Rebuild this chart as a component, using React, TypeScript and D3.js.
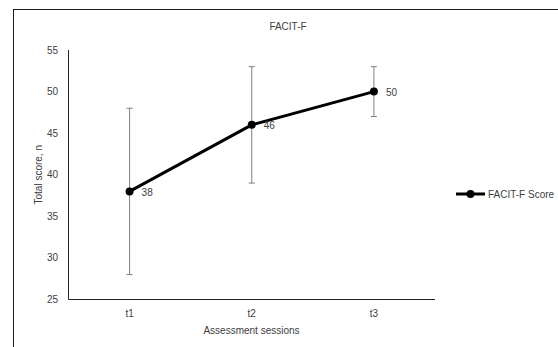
import React from "react";
import * as d3 from "d3";

const categories = ["t1", "t2", "t3"];
const scores = [38, 46, 50];
const errLow = [28, 39, 47];
const errHigh = [48, 53, 53];
const yTicks = [25, 30, 35, 40, 45, 50, 55];
const title = "FACIT-F";
const seriesName = "FACIT-F Score";
const xLabel = "Assessment sessions";
const yLabel = "Total score, n";

const W = 558;
const H = 347;
const FONT = "'Liberation Sans Narrow', 'Liberation Sans', Arial, sans-serif";

export default function App() {
  const x = d3.scaleBand<string>().domain(categories).range([68.5, 435]);
  const y = d3.scaleLinear().domain([25, 55]).range([299.5, 50]);
  const cx = (c: string) => (x(c) as number) + x.bandwidth() / 2;
  const line = d3
    .line<number>()
    .x((_, i) => cx(categories[i]))
    .y((d) => y(d));

  return (
    <svg
      width={W}
      height={H}
      style={{ position: "absolute", left: 0, top: 0 }}
      fontFamily={FONT}
    >
      <rect x={0} y={0} width={W} height={H} fill="#fff" />
      {/* outer chart frame */}
      <rect x={13.5} y={9.5} width={W} height={H} fill="none" stroke="#1a1a1a" strokeWidth={1} />
      <text x={288} y={30} textAnchor="middle" fontSize={10} fill="#404040">
        {title}
      </text>
      {/* axes */}
      <line x1={68.5} x2={68.5} y1={y(55)} y2={y(25)} stroke="#222" strokeWidth={1} />
      <line x1={68.5} x2={435} y1={y(25)} y2={y(25)} stroke="#222" strokeWidth={1} />
      {yTicks.map((t) => (
        <text key={t} x={58} y={y(t)} dy="0.35em" textAnchor="end" fontSize={10} fill="#404040">
          {t}
        </text>
      ))}
      {categories.map((c) => (
        <text key={c} x={cx(c)} y={313} dy="0.35em" textAnchor="middle" fontSize={10} fill="#404040">
          {c}
        </text>
      ))}
      <text x={251.5} y={330} dy="0.35em" textAnchor="middle" fontSize={10} fill="#404040">
        {xLabel}
      </text>
      <text
        transform={`translate(38,${y(40)}) rotate(-90)`}
        dy="0.35em"
        textAnchor="middle"
        fontSize={10}
        fill="#404040"
      >
        {yLabel}
      </text>
      {/* error bars */}
      {categories.map((c, i) => (
        <g key={c} stroke="#7f7f7f" strokeWidth={1}>
          <line x1={cx(c)} x2={cx(c)} y1={y(errLow[i])} y2={y(errHigh[i])} />
          <line x1={cx(c) - 3} x2={cx(c) + 3} y1={y(errLow[i])} y2={y(errLow[i])} />
          <line x1={cx(c) - 3} x2={cx(c) + 3} y1={y(errHigh[i])} y2={y(errHigh[i])} />
        </g>
      ))}
      <path d={line(scores) || ""} fill="none" stroke="#000" strokeWidth={3} strokeLinejoin="round" />
      {scores.map((s, i) => (
        <circle key={i} cx={cx(categories[i])} cy={y(s)} r={4} fill="#000" />
      ))}
      {scores.map((s, i) => (
        <text
          key={"l" + i}
          x={cx(categories[i]) + 12}
          y={y(s) + 1}
          dy="0.35em"
          fontSize={10}
          fill="#404040"
        >
          {s}
        </text>
      ))}
      {/* legend */}
      <line x1={456} x2={485} y1={194} y2={194} stroke="#000" strokeWidth={3} />
      <circle cx={470.5} cy={194} r={4} fill="#000" />
      <text x={488} y={194} dy="0.35em" fontSize={10} fill="#404040">
        {seriesName}
      </text>
    </svg>
  );
}
